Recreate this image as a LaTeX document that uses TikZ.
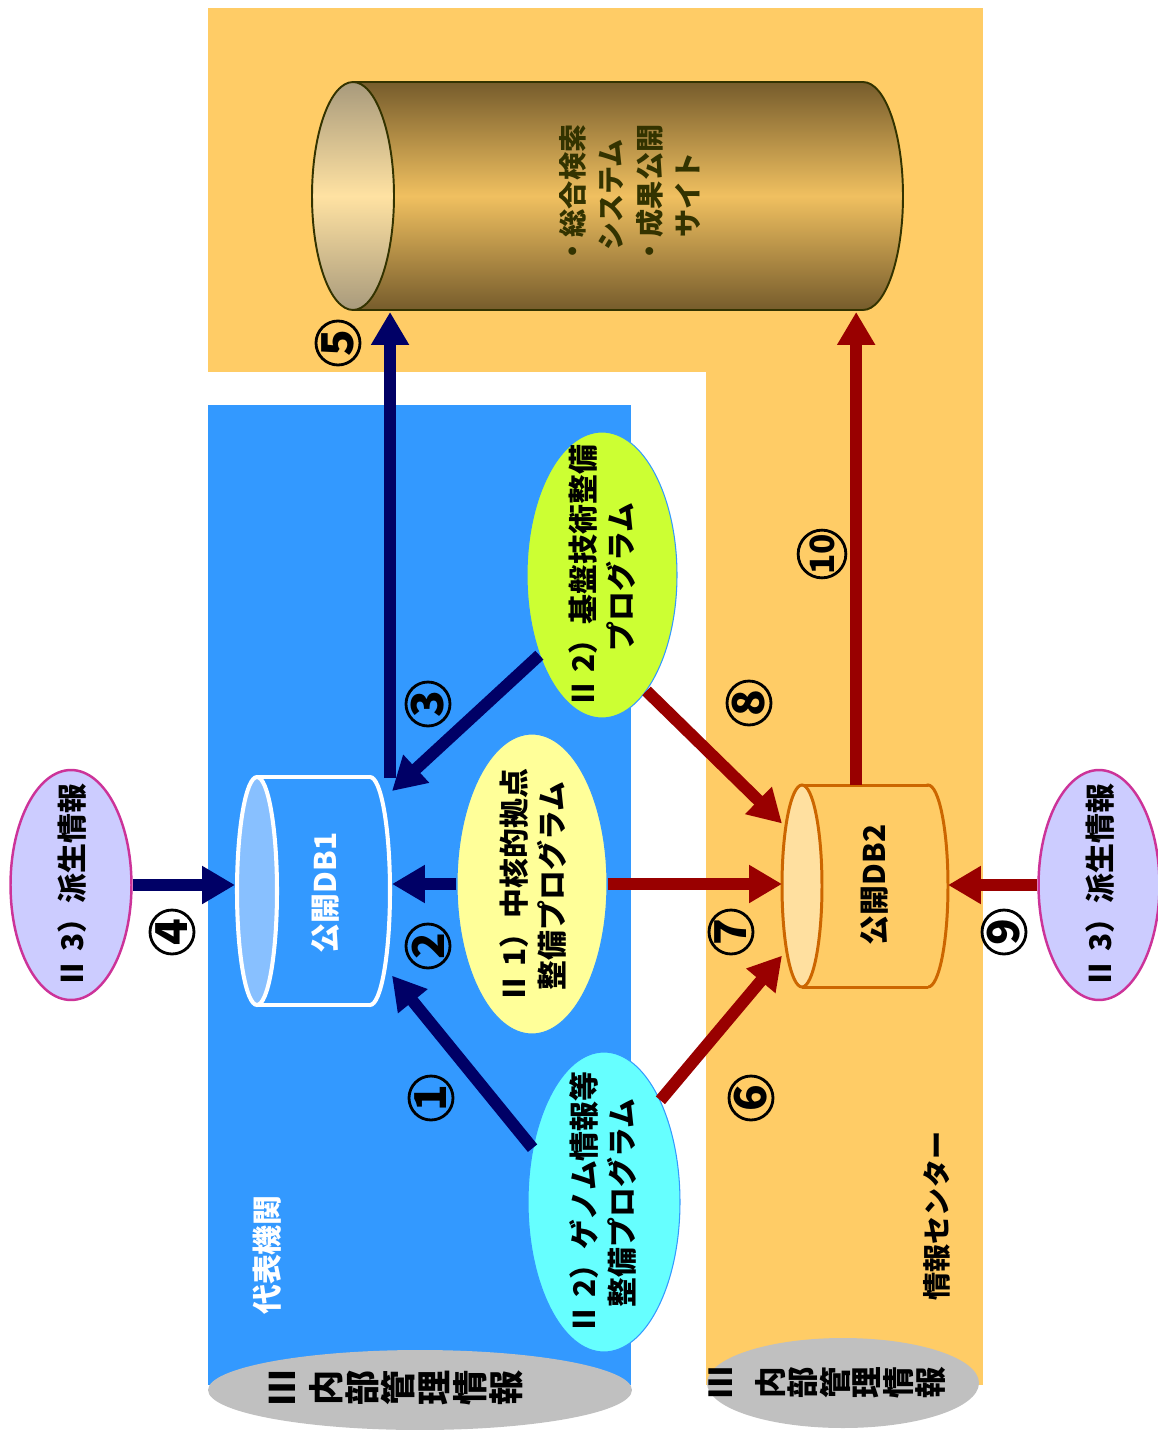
\documentclass[tikz,border=0pt]{standalone}
\usepackage{fontspec}
\setmainfont{Noto Sans CJK JP}
\usetikzlibrary{arrows.meta,positioning,shapes.geometric}
\definecolor{panelorange}{HTML}{FFCC66}
\definecolor{panelblue}{HTML}{3399FF}
\definecolor{panelgray}{HTML}{C0C0C0}
\definecolor{linknavy}{HTML}{000066}
\definecolor{linkred}{HTML}{990000}
\definecolor{proglime}{HTML}{CCFF33}
\definecolor{progyellow}{HTML}{FFFF99}
\definecolor{progaqua}{HTML}{66FFFF}
\definecolor{derivfill}{HTML}{CCCCFF}
\definecolor{derivline}{HTML}{CC3399}
\definecolor{golddark}{HTML}{765C2C}
\definecolor{goldlight}{HTML}{F0C060}
\definecolor{capgray}{HTML}{A89A7C}
\definecolor{caplight}{HTML}{FFE2A2}
\definecolor{cylink}{HTML}{333300}
\definecolor{dbcapblue}{HTML}{88C0FF}
\definecolor{dbcaporange}{HTML}{FFE0A0}
\definecolor{dbline}{HTML}{CC6600}

\begin{document}
\begin{tikzpicture}[x=0.02cm,y=-0.02cm,
  prog/.style={ellipse,draw=panelblue,line width=0.6pt,inner sep=0pt},
  deriv/.style={ellipse,draw=derivline,line width=1.4pt,fill=derivfill,inner sep=0pt,
    minimum width=2.42cm,minimum height=4.6cm},
  vtext/.style={rotate=90,align=center,inner sep=0pt,font=\fontsize{17}{22}\selectfont\bfseries},
  graych/.style={rotate=90,inner sep=0pt},
  dbbox/.style={inner sep=0pt,outer sep=0pt},
  tonavy/.style={draw=linknavy,line width=0.24cm,-{Triangle[length=0.66cm,width=0.72cm]}},
  tored/.style={draw=linkred,line width=0.24cm,-{Triangle[length=0.66cm,width=0.72cm]}},
  stepno/.style={circle,draw,line width=1.6pt,minimum size=0.88cm,inner sep=0pt,rotate=90,
    font=\fontsize{25}{25}\selectfont\bfseries}]
  \useasboundingbox (0,0) rectangle (1157,1430);
  \fill[panelorange] (208,8) rectangle (983,372);
  \fill[panelorange] (706,372) rectangle (983,1385);
  \fill[panelblue] (208,405) rectangle (631,1385);
  \fill[panelgray] (420,1390) ellipse [x radius=4.24cm,y radius=0.8cm];
  \fill[panelgray] (843,1383) ellipse [x radius=2.72cm,y radius=0.9cm];

  \shade[top color=golddark,bottom color=golddark,middle color=goldlight,draw=cylink,line width=1.1pt]
    (863,196) ellipse [x radius=0.8cm,y radius=2.28cm];
  \shade[top color=golddark,bottom color=golddark,middle color=goldlight]
    (353,82) rectangle (863,310);
  \draw[cylink,line width=1.1pt] (353,82) -- (863,82) (353,310) -- (863,310);
  \shade[top color=capgray,bottom color=capgray,middle color=caplight,draw=cylink,line width=1.1pt]
    (353,196) ellipse [x radius=0.82cm,y radius=2.28cm];
  \node[dbbox,minimum width=11.82cm,minimum height=4.6cm] (portal) at (608,197) {};
  \node[vtext,text=cylink,font=\fontsize{16}{22}\selectfont\bfseries] (portaltxt) at (630,195)
    {・総合検索\\システム\\・成果公開\\サイト};

  \filldraw[fill=panelblue,draw=white,line width=2.3pt] (370,891) ellipse [x radius=0.4cm,y radius=2.28cm];
  \fill[panelblue] (257,777) rectangle (370,1005);
  \draw[white,line width=2.3pt] (257,777) -- (370,777) (257,1005) -- (370,1005);
  \filldraw[fill=dbcapblue,draw=white,line width=2.3pt] (257,891) ellipse [x radius=0.4cm,y radius=2.28cm];
  \node[dbbox,minimum width=3.14cm,minimum height=4.54cm] (db1) at (313.5,891.5) {};
  \node[vtext,text=white] (db1txt) at (326,893) {公開DB1};

  \filldraw[fill=panelorange,draw=dbline,line width=1.7pt] (928,886) ellipse [x radius=0.4cm,y radius=2.02cm];
  \fill[panelorange] (802,785) rectangle (928,987);
  \draw[dbline,line width=1.7pt] (802,785) -- (928,785) (802,987) -- (928,987);
  \filldraw[fill=dbcaporange,draw=dbline,line width=1.7pt] (802,886) ellipse [x radius=0.4cm,y radius=2.02cm];
  \node[dbbox,minimum width=3.32cm,minimum height=4.04cm] (db2) at (865,886) {};
  \node[vtext] (db2txt) at (874,885) {公開DB2};

  \node[prog,fill=proglime,minimum width=3cm,minimum height=5.72cm] (kiban) at (602,575) {};
  \node[prog,fill=progyellow,minimum width=3cm,minimum height=6cm] (chukaku) at (532,884) {};
  \node[prog,fill=progaqua,minimum width=3.04cm,minimum height=6cm] (genome) at (604,1202) {};
  \node[deriv] (lderiv) at (71,885) {};
  \node[deriv] (rderiv) at (1099,885) {};

  \node[vtext] (kibantxt) at (602,577) {Ⅱ 2）基盤技術整備\\プログラム};
  \node[vtext] (chukakutxt) at (533,886) {Ⅱ 1）中核的拠点\\整備プログラム};
  \node[vtext] (genometxt) at (603,1203) {Ⅱ 2）ゲノム情報等\\整備プログラム};
  \node[vtext] (lderivtxt) at (72,886) {Ⅱ 3）派生情報};
  \node[vtext] (rderivtxt) at (1100,886) {Ⅱ 3）派生情報};
  \node[vtext,text=white] (orgtxt) at (267,1255) {代表機関};
  \node[vtext,font=\fontsize{16}{16}\selectfont\bfseries] (centertxt) at (937,1216) {情報センター};

  \node[graych,font=\fontsize{20}{20}\selectfont\bfseries] (linner0) at (282,1388) {Ⅲ};
  \foreach \ch [count=\i] in {内,部,管,理,情,報}
    \node[graych,font=\fontsize{20}{20}\selectfont\bfseries] (linner\i) at (290+36*\i,1388) {\ch};
  \node[graych,font=\fontsize{18}{18}\selectfont\bfseries] (rinner0) at (721,1383) {Ⅲ};
  \foreach \ch [count=\i] in {内,部,管,理,情,報}
    \node[graych,font=\fontsize{18}{18}\selectfont\bfseries] (rinner\i) at (739+32*\i,1383) {\ch};

  \draw[tonavy] (lderiv.east) -- (lderiv.east -| db1.west);
  \draw[tonavy] (chukaku.west) -- (chukaku.west -| db1.east);
  \draw[tonavy] (genome.143) -- (db1.-47);
  \draw[tonavy] (kiban.232) -- (db1.52);
  \draw[tonavy] (db1.56) -- (db1.56 |- portal.south);
  \draw[tored] (genome.61) -- (db2.-140);
  \draw[tored] (chukaku.east) -- (chukaku.east -| db2.west);
  \draw[tored] (kiban.-69) -- (db2.143);
  \draw[tored] (rderiv.west) -- (rderiv.west -| db2.east);
  \draw[tored] (db2.95) -- (db2.95 |- portal.south);

  \node[stepno] (s1) at (431,1098) {1};
  \node[stepno] (s2) at (428,946) {2};
  \node[stepno] (s3) at (428,704) {3};
  \node[stepno] (s4) at (172,932) {4};
  \node[stepno] (s5) at (338,343) {5};
  \node[stepno] (s6) at (751,1098) {6};
  \node[stepno] (s7) at (731,932) {7};
  \node[stepno] (s8) at (749,703) {8};
  \node[stepno] (s9) at (1004,932) {9};
  \node[stepno,font=\fontsize{19}{19}\selectfont\bfseries] (s10) at (822,554) {10};
\end{tikzpicture}
\end{document}
